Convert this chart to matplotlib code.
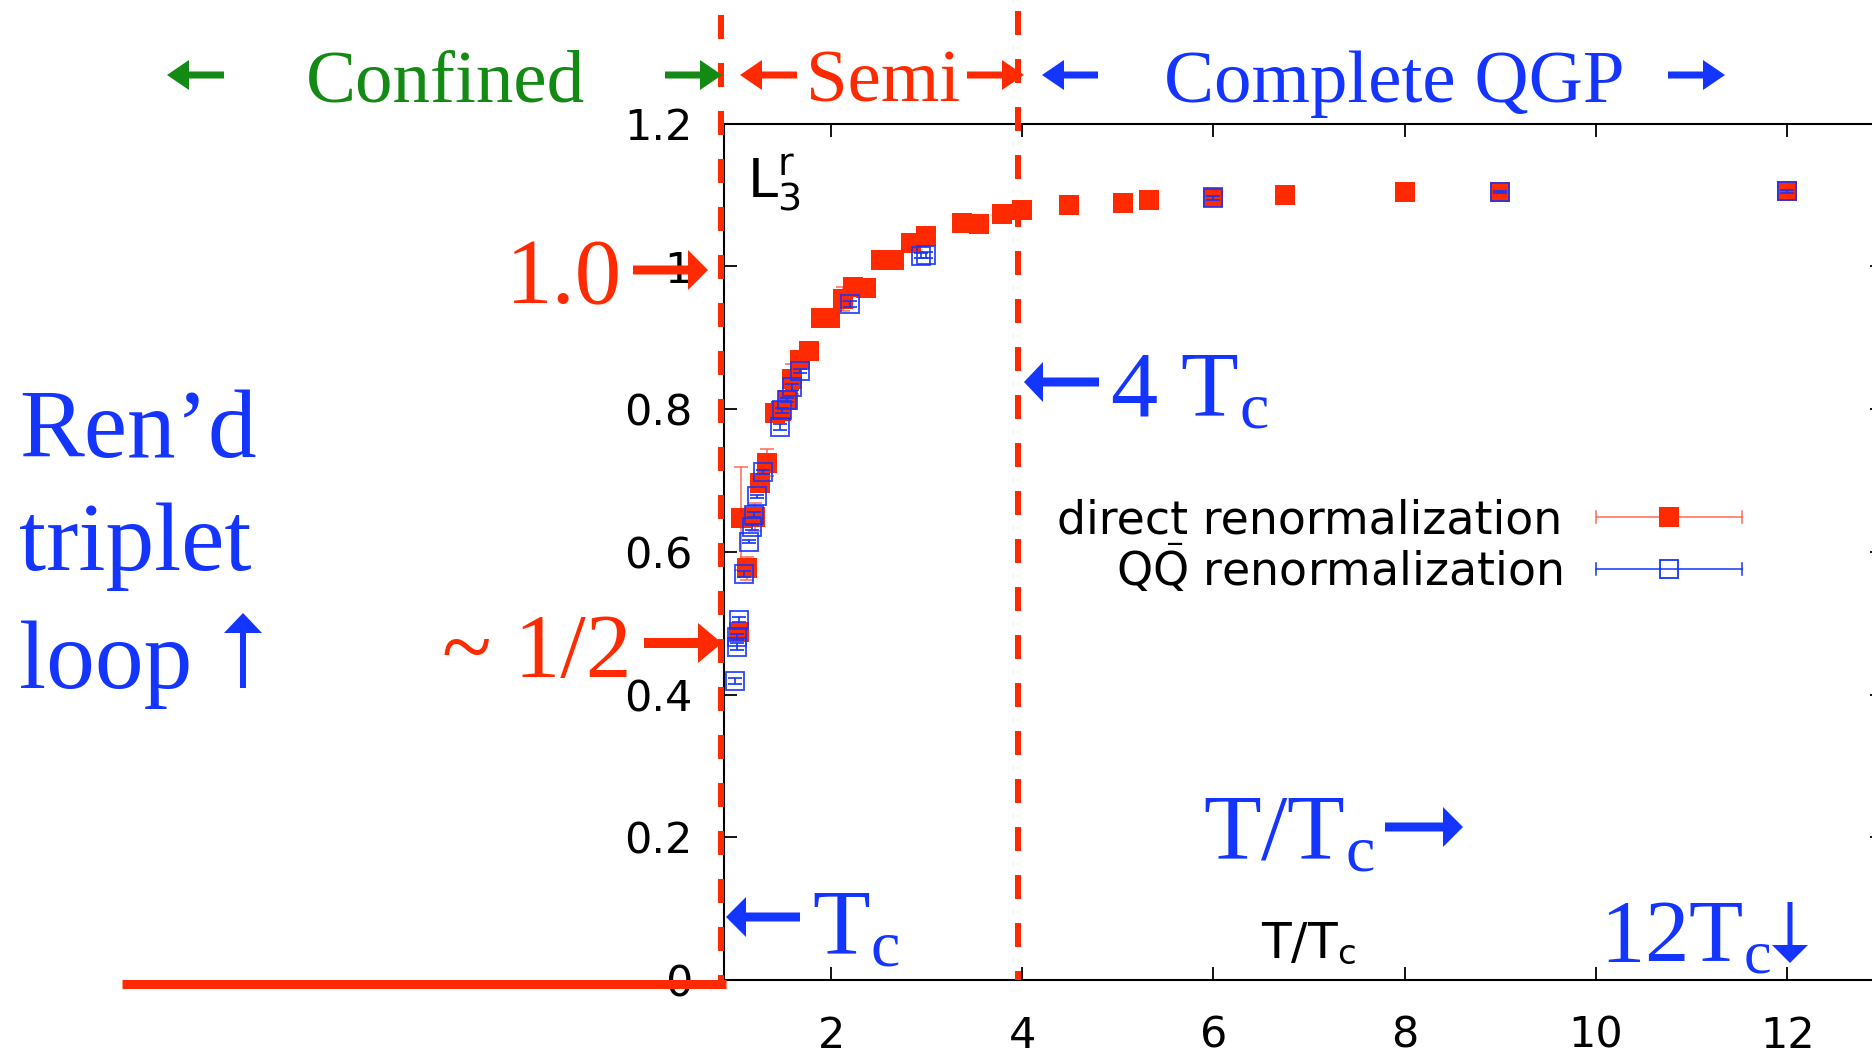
import matplotlib
matplotlib.use("Agg")
import matplotlib.pyplot as plt
from matplotlib.patches import FancyArrowPatch
from matplotlib.lines import Line2D

# ---------------- data ----------------
# renormalized triplet Polyakov loop vs T/Tc, direct renormalization
direct_T = [1.04, 1.06, 1.12, 1.20, 1.26, 1.33, 1.41, 1.48, 1.55, 1.59, 1.68,
            1.77, 1.89, 1.99, 2.12, 2.23, 2.37, 2.52, 2.66, 2.84, 2.99, 3.37,
            3.55, 3.79, 4.00, 4.49, 5.05, 5.33, 6.00, 6.75, 8.00, 9.00, 12.00]
direct_L = [0.488, 0.647, 0.577, 0.649, 0.697, 0.725, 0.794, 0.797, 0.812,
            0.842, 0.869, 0.881, 0.928, 0.927, 0.954, 0.971, 0.970, 1.009,
            1.009, 1.032, 1.042, 1.061, 1.059, 1.073, 1.079, 1.086, 1.089,
            1.093, 1.097, 1.100, 1.104, 1.104, 1.105]
direct_err = [0.008, 0.072, 0.016, 0.020, 0.006, 0.019, 0.005, 0.005, 0.006,
              0.021, 0.005, 0.005, 0.004, 0.004, 0.017, 0.004, 0.004, 0.003,
              0.003, 0.003, 0.003, 0.003, 0.003, 0.003, 0.003, 0.003, 0.003,
              0.003, 0.003, 0.003, 0.003, 0.003, 0.003]

# same quantity, Q Qbar renormalization
qq_T = [1.00, 1.02, 1.02, 1.04, 1.09, 1.14, 1.17, 1.19, 1.23, 1.29, 1.47,
        1.49, 1.54, 1.59, 1.67, 2.20, 2.94, 2.99, 6.00, 9.00, 12.00]
qq_L = [0.419, 0.481, 0.467, 0.505, 0.569, 0.614, 0.634, 0.652, 0.678, 0.712,
        0.775, 0.798, 0.813, 0.831, 0.853, 0.947, 1.015, 1.016, 1.096, 1.104,
        1.105]
qq_err = [0.004, 0.004, 0.005, 0.004, 0.004, 0.002, 0.003, 0.004, 0.002,
          0.003, 0.004, 0.004, 0.003, 0.004, 0.003, 0.004, 0.004, 0.004,
          0.003, 0.002, 0.002]

x_ticks = [2, 4, 6, 8, 10, 12]
y_ticks = [0, 0.2, 0.4, 0.6, 0.8, 1.0, 1.2]
y_tick_labels = ["0", "0.2", "0.4", "0.6", "0.8", "1", "1.2"]

# ---------------- style ----------------
RED = "#ff2a00"
RED_ERR = "#ff6a55"
BLUE = "#1434ff"
GREEN = "#138a13"
SERIF = "Liberation Serif"

plt.rcParams["font.family"] = ["DejaVu Sans"]
plt.rcParams["mathtext.fontset"] = "custom"
plt.rcParams["mathtext.rm"] = SERIF
plt.rcParams["mathtext.it"] = SERIF + ":italic"
plt.rcParams["mathtext.bf"] = SERIF + ":bold"
plt.rcParams["mathtext.sf"] = "DejaVu Sans"

W, H, DPI = 1872, 1054, 100
PT = 72.0 / DPI  # points per pixel

fig = plt.figure(figsize=(W / DPI, H / DPI), dpi=DPI)
fig.patch.set_facecolor("white")


def fx(x):
    return x / W


def fy(y):
    return 1.0 - y / H


# axes: x from 0.88 to 13, 95.6 px per unit; right spine falls just past the edge
XMIN, XMAX = 0.88, 13.0
ax = fig.add_axes([fx(724), fy(980), (XMAX - XMIN) * 95.6 / W, (980 - 123.5) / H])
ax.set_xlim(XMIN, XMAX)
ax.set_ylim(0, 1.2)
ax.set_xticks(x_ticks)
ax.set_xticklabels([str(t) for t in x_ticks])
ax.set_yticks(y_ticks)
ax.set_yticklabels(y_tick_labels)
ax.tick_params(direction="in", length=9.5, width=1.3, top=True, right=True,
               labelsize=31, colors="black")
ax.tick_params(axis="x", pad=25)
ax.tick_params(axis="y", pad=23)
for s in ax.spines.values():
    s.set_linewidth(1.5)
ax.set_facecolor("none")

# region boundaries (dashed) at the Tc edge and at 4 Tc
for xv, ytop in ((0.849, 1.3526), (3.956, 1.3582)):
    ax.plot([xv, xv], [ytop, 0.0], color=RED, lw=6 * PT, dashes=(4, 4),
            solid_capstyle="butt", dash_capstyle="butt", clip_on=False,
            zorder=2.7)

# data
ax.errorbar(direct_T, direct_L, yerr=direct_err, fmt="none", ecolor=RED_ERR,
            elinewidth=1.1, capsize=4.7, capthick=1.1, zorder=3)
ax.plot(direct_T, direct_L, "s", ms=14.4, color=RED, mec=RED, mew=0,
        zorder=4, clip_on=False)
ax.plot(qq_T, qq_L, "s", ms=13.6, mfc="none", mec=BLUE, mew=1.3, alpha=0.9,
        zorder=5, clip_on=False)
ax.errorbar(qq_T, qq_L, yerr=qq_err, fmt="none", ecolor=BLUE, elinewidth=1.2,
            capsize=4.7, capthick=1.2, zorder=6)

# axis labels inside the frame
fig.text(fx(747), fy(199), r"$\mathsf{L}_\mathsf{3}^\mathsf{r}$", fontsize=39,
         ha="left", va="baseline", color="black")
fig.text(fx(1261), fy(957), r"T/T$_\mathsf{c}$", fontsize=35, ha="left",
         va="baseline", color="black")

# legend
rows = [("direct renormalization", 517, 533, RED_ERR, RED, RED),
        (r"Q$\bar{\mathsf{Q}}$ renormalization", 569, 586, BLUE, "none", BLUE)]
for label, yc, yb, lc, mfc, mec in rows:
    fig.text(fx(1562), fy(yb), label, fontsize=33, ha="right", va="baseline")
    fig.add_artist(Line2D([fx(1596), fx(1742)], [fy(yc), fy(yc)], color=lc, lw=1.1))
    for xe in (1596, 1742):
        fig.add_artist(Line2D([fx(xe), fx(xe)], [fy(yc - 6), fy(yc + 6)],
                              color=lc, lw=1.1))
    fig.add_artist(Line2D([fx(1669)], [fy(yc)], marker="s",
                          ms=14.4 if mfc != "none" else 13.6,
                          mfc=mfc, mec=mec, mew=0 if mfc != "none" else 1.3,
                          ls="none"))

# confined side: loop pinned at zero below Tc
fig.add_artist(Line2D([fx(122), fx(726)], [fy(984), fy(984)], color=RED,
                      lw=9 * PT, solid_capstyle="butt", zorder=3))


def arrow(x0, y0, x1, y1, color, hl, hw, tw):
    a = FancyArrowPatch((fx(x0), fy(y0)), (fx(x1), fy(y1)),
                        transform=fig.transFigure,
                        arrowstyle="simple,head_length=%.3f,head_width=%.3f,tail_width=%.3f"
                        % (hl * PT, hw * PT, tw * PT),
                        mutation_scale=1, color=color, lw=0,
                        shrinkA=0, shrinkB=0, zorder=4)
    fig.add_artist(a)


def label(x, y, s, color, size, ha="left"):
    fig.text(fx(x), fy(y), s, fontsize=size, family=SERIF, color=color,
             ha=ha, va="baseline", zorder=4)


# phase headings
label(445, 102, "Confined", GREEN, 54, ha="center")
label(883, 102, "Semi", RED, 54, ha="center")
label(1394, 102, "Complete QGP", BLUE, 54, ha="center")
arrow(224, 75, 167, 75, GREEN, 22, 30, 7)
arrow(665, 75, 722, 75, GREEN, 22, 30, 7)
arrow(797, 75, 740, 75, RED, 22, 30, 7)
arrow(967, 75, 1024, 75, RED, 22, 30, 7)
arrow(1098, 75, 1042, 75, BLUE, 22, 30, 7)
arrow(1668, 75, 1725, 75, BLUE, 22, 30, 7)

# value markers on the y axis
label(564, 303, "1.0", RED, 67, ha="center")
arrow(633, 270, 708, 270, RED, 20, 40, 9)
label(632, 677, "~ 1/2", RED, 66, ha="right")
arrow(644, 643, 722, 643, RED, 24, 40, 10)

# left-hand caption
label(19, 457, "Ren\u2019d", BLUE, 70)
label(19, 570, "triplet", BLUE, 70)
label(19, 688, "loop", BLUE, 70)
arrow(243, 688, 243, 613, BLUE, 20, 38, 6)

# temperature markers
arrow(1099, 382, 1024, 382, BLUE, 19, 40, 9)
label(1110, 417, r"4 T$_\mathrm{c}$", BLUE, 68)
label(1203, 860, r"T/T$_\mathrm{c}$", BLUE, 68)
arrow(1385, 827, 1463, 827, BLUE, 20, 40, 9)
arrow(800, 917, 726, 917, BLUE, 20, 40, 9)
label(812, 955, r"T$_\mathrm{c}$", BLUE, 68)
label(1600, 961, r"12T$_\mathrm{c}$", BLUE, 64)
arrow(1790, 902, 1790, 963, BLUE, 18, 36, 5)

fig.savefig("out.png", dpi=DPI)
